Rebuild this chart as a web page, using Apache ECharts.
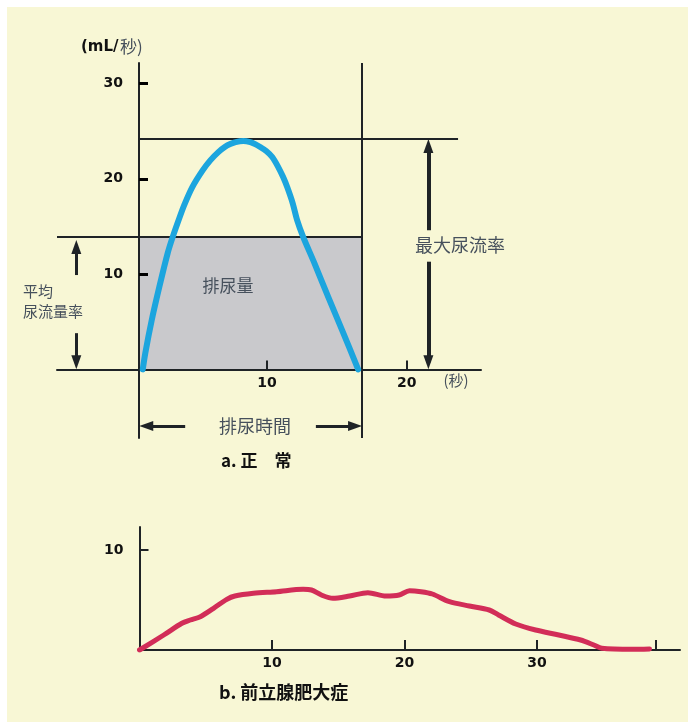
<!DOCTYPE html>
<html><head><meta charset="utf-8">
<script src="https://cdn.jsdelivr.net/npm/echarts@6/dist/echarts.min.js"></script>
<style>
html,body{margin:0;padding:0;background:#ffffff;}
#bg{position:absolute;left:7px;top:7px;width:681px;height:715px;background:#f8f7d5;}
#chart{position:absolute;left:0;top:0;width:688px;height:722px;}
</style></head>
<body><div id="bg"></div><div id="chart"></div>
<script>
// ---------- a. normal ----------
const normalTime = [1.13, 1.31, 1.77, 2.31, 2.91, 3.27, 3.70, 4.09, 4.67, 5.42, 5.97, 6.53, 6.99, 7.38, 7.77, 8.31,
                    8.81, 9.16, 9.52, 9.95, 10.38, 10.81, 11.16, 11.45, 11.84, 12.16, 12.59, 13.38, 14.38, 15.38, 16.52];
const normalFlow = [0, 1.71, 5.17, 8.64, 12.2, 13.9, 15.7, 17.24, 19.13, 20.91, 21.96, 22.8, 23.33, 23.64, 23.85, 23.96,
                    23.85, 23.64, 23.33, 22.91, 22.28, 21.23, 20.18, 19.13, 17.45, 15.66, 13.9, 11.2, 7.6, 4.1, 0];
const normalXTicks = [10, 20];
const normalYTicks = [10, 20, 30];
// annotation values (seconds / mL per second)
const yAxisTime = 0.88;
const voidEnd = 16.8;
const meanFlow = 13.9;
const peakFlow = 24.2;
const peakLineEnd = 23.66;
const maxArrowTime = 21.54;
const maxGapTop = 14.6, maxGapBottom = 11.3;
const meanArrowTime = -3.62;
const meanArrowTip = 13.6;
const meanGapTop = 9.9, meanGapBottom = 3.8;
const durationLevel = -5.95;
const durGapLeft = 4.16, durGapRight = 13.5;
const topXMin = -5, topXMax = 25.3, topYMin = -7.2, topYMax = 32.15;

// ---------- b. BPH ----------
const bphTime = [0, 1.83, 3.2, 3.83, 4.59, 5.59, 6.59, 7.2, 8.6, 10.35, 12.35, 12.98, 13.73, 14.6, 15.86, 17.24, 18.6, 19.6, 20.38, 21.25, 22.1, 23.4, 24.9, 26.4, 27.1, 28.4, 29.9, 31.65, 33.3, 34.3, 34.9, 37.2, 38.5];
const bphFlow = [0, 1.5, 2.67, 3.0, 3.33, 4.17, 5.07, 5.4, 5.67, 5.83, 6.07, 6.0, 5.5, 5.17, 5.4, 5.73, 5.4, 5.5, 5.93, 5.83, 5.6, 4.83, 4.4, 4.0, 3.5, 2.6, 2.0, 1.5, 1.0, 0.5, 0.17, 0.07, 0.1];
const bphXTicks = [10, 20, 30, 39];
const bphXLabels = [10, 20, 30];
const bphYTicks = [10];

const INK = '#1f2326';
const SLATE = '#46505c';
const NUMFONT = 'DejaVu Sans';
const CJK = '"Noto Sans CJK JP"';

function seg(a, b, endSym) {
  return [
    { coord: a, symbol: 'none' },
    { coord: b, symbol: endSym || 'none' }
  ];
}
const dy = 0.75, dx = 0.5; // arrow head half-length in data units
const lines = [
  { d: seg([voidEnd, topYMin], [voidEnd, topYMax]), w: 2 },
  { d: seg([topXMin, meanFlow], [voidEnd, meanFlow]), w: 2 },
  { d: seg([yAxisTime, peakFlow], [peakLineEnd, peakFlow]), w: 2 },
  { d: seg([maxArrowTime, maxGapTop], [maxArrowTime, peakFlow - dy], 'triangle'), w: 4 },
  { d: seg([maxArrowTime, maxGapBottom], [maxArrowTime, 0 + dy], 'triangle'), w: 4 },
  { d: seg([meanArrowTime, meanGapTop], [meanArrowTime, meanArrowTip - dy], 'triangle'), w: 3 },
  { d: seg([meanArrowTime, meanGapBottom], [meanArrowTime, 0 + dy], 'triangle'), w: 3 },
  { d: seg([durGapLeft, durationLevel], [yAxisTime + dx, durationLevel], 'triangle'), w: 3 },
  { d: seg([durGapRight, durationLevel], [voidEnd - dx, durationLevel], 'triangle'), w: 3 }
];
const markLineData = lines.map(l => {
  l.d[0].lineStyle = { width: l.w, color: INK, type: 'solid' };
  return l.d;
});

function txt(text, x, y, size, color, align, weight, family) {
  return {
    type: 'text', silent: true, z: 50,
    style: {
      text: text, x: x, y: y,
      font: (weight || 'normal') + ' ' + size + 'px ' + (family || CJK),
      fill: color,
      textAlign: align || 'center', align: align || 'center',
      textVerticalAlign: 'middle', verticalAlign: 'middle'
    }
  };
}

const chart = echarts.init(document.getElementById('chart'), null, { renderer: 'canvas' });
const option = {
  animation: false,
  backgroundColor: 'transparent',
  title: [
    { text: 'a. 正　常', left: 221, top: 452, padding: 0,
      textStyle: { fontSize: 17, fontWeight: 'bold', color: '#111', fontFamily: CJK } },
    { text: 'b. 前立腺肥大症', left: 219, top: 683, padding: 0,
      textStyle: { fontSize: 18, fontWeight: 'bold', color: '#111', fontFamily: CJK } }
  ],
  grid: [
    { left: 57, top: 63, width: 424, height: 375, containLabel: false, outerBoundsMode: 'none' },
    { left: 139.5, top: 527, width: 540.5, height: 123, containLabel: false, outerBoundsMode: 'none' }
  ],
  xAxis: [
    {
      gridIndex: 0, type: 'value', min: topXMin, max: topXMax, z: 3,
      axisLine: { onZero: true, lineStyle: { color: INK, width: 2 } },
      axisTick: { inside: true, length: 9, customValues: normalXTicks, lineStyle: { color: INK, width: 2 } },
      axisLabel: { customValues: normalXTicks, margin: -62, color: '#111', fontFamily: NUMFONT, fontWeight: 'bold', fontSize: 14 },
      splitLine: { show: false }
    },
    {
      gridIndex: 1, type: 'value', min: 0, max: 40.8, z: 3,
      axisLine: { onZero: true, lineStyle: { color: INK, width: 2 } },
      axisTick: { inside: true, length: 10, customValues: bphXTicks, lineStyle: { color: INK, width: 2 } },
      axisLabel: { customValues: bphXLabels, margin: 6, color: '#111', fontFamily: NUMFONT, fontWeight: 'bold', fontSize: 14 },
      splitLine: { show: false }
    }
  ],
  yAxis: [
    {
      gridIndex: 0, type: 'value', min: topYMin, max: topYMax, position: 'left', offset: -82, z: 3,
      axisLine: { show: true, onZero: false, lineStyle: { color: INK, width: 2 } },
      axisTick: { show: true, inside: true, length: 9, customValues: normalYTicks, lineStyle: { color: '#000', width: 3 } },
      axisLabel: { customValues: normalYTicks, margin: 16, color: '#111', fontFamily: NUMFONT, fontWeight: 'bold', fontSize: 14 },
      splitLine: { show: false }
    },
    {
      gridIndex: 1, type: 'value', min: 0, max: 12.3, z: 3,
      axisLine: { show: true, onZero: false, lineStyle: { color: INK, width: 2 } },
      axisTick: { show: true, inside: true, length: 9, customValues: bphYTicks, lineStyle: { color: INK, width: 2 } },
      axisLabel: { customValues: bphYTicks, margin: 16, color: '#111', fontFamily: NUMFONT, fontWeight: 'bold', fontSize: 14 },
      splitLine: { show: false }
    }
  ],
  series: [
    {
      type: 'line', xAxisIndex: 0, yAxisIndex: 0, data: [], z: 1, silent: true,
      markArea: {
        silent: true,
        itemStyle: { color: '#c9c9cc' },
        data: [[{ coord: [yAxisTime, 0] }, { coord: [voidEnd, meanFlow] }]]
      }
    },
    {
      type: 'line', xAxisIndex: 0, yAxisIndex: 0, data: [], z: 2, silent: true,
      markLine: {
        silent: true, animation: false,
        symbolSize: [10, 14],
        label: { show: false },
        lineStyle: { color: INK, width: 2, type: 'solid' },
        emphasis: { disabled: true },
        data: markLineData
      }
    },
    {
      name: '正常', type: 'line', xAxisIndex: 0, yAxisIndex: 0, z: 5,
      data: normalTime.map((t, i) => [t, normalFlow[i]]),
      smooth: 0.3, showSymbol: false, symbol: 'none',
      lineStyle: { color: '#1ca5de', width: 6, cap: 'round', join: 'round' }
    },
    {
      name: '前立腺肥大症', type: 'line', xAxisIndex: 1, yAxisIndex: 1, z: 5,
      data: bphTime.map((t, i) => [t, bphFlow[i]]),
      smooth: 0.3, showSymbol: false, symbol: 'none',
      lineStyle: { color: '#d22d58', width: 5, cap: 'round', join: 'round' }
    }
  ],
  graphic: [
    txt('(mL/', 81, 47, 15, '#111', 'left', 'bold', NUMFONT),
    txt('秒)', 120, 47, 17, SLATE, 'left', 'normal'),
    txt('(秒)', 456, 380, 15, SLATE, 'center'),
    txt('平均', 23, 291, 15, SLATE, 'left'),
    txt('尿流量率', 23, 311, 15, SLATE, 'left'),
    txt('排尿量', 228, 286, 17, SLATE, 'center'),
    txt('最大尿流率', 460, 245, 18, SLATE, 'center'),
    txt('排尿時間', 255, 426, 18, SLATE, 'center')
  ]
};
chart.setOption(option);
</script>
</body></html>
